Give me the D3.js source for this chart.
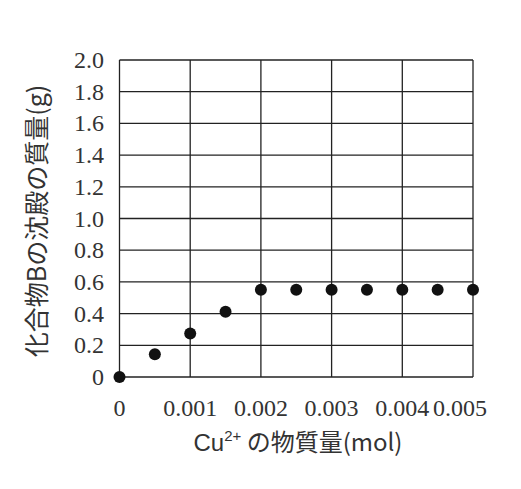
<!DOCTYPE html><html><head><meta charset="utf-8"><script src="https://d3js.org/d3.v7.min.js"></script>
<style>body{margin:0;background:#fff}</style></head><body><svg id="c" width="521" height="489"></svg>
<script>
const xs=[0,0.0005,0.001,0.0015,0.002,0.0025,0.003,0.0035,0.004,0.0045,0.005];
const ys=[0,0.143,0.275,0.412,0.55,0.55,0.55,0.55,0.55,0.55,0.55];
const xTicks=[0,0.001,0.002,0.003,0.004,0.005];
const xTickLabels=["0","0.001","0.002","0.003","0.004","0.005"];
const yTicks=[0,0.2,0.4,0.6,0.8,1.0,1.2,1.4,1.6,1.8,2.0];
const yTickLabels=["0","0.2","0.4","0.6","0.8","1.0","1.2","1.4","1.6","1.8","2.0"];
const svg=d3.select("#c");
const x=d3.scaleLinear().domain([0,0.005]).range([119.5,473]);
const y=d3.scaleLinear().domain([0,2]).range([377,60]);
const g=svg.append("g");
g.selectAll(".h").data(yTicks).join("line").attr("x1",x(0)).attr("x2",x(0.005)).attr("y1",d=>y(d)).attr("y2",d=>y(d)).attr("stroke","#222").attr("stroke-width",1.3);
g.selectAll(".v").data(xTicks).join("line").attr("y1",y(0)).attr("y2",y(2)).attr("x1",d=>x(d)).attr("x2",d=>x(d)).attr("stroke","#222").attr("stroke-width",1.3);
const serif="Liberation Serif, Times New Roman, DejaVu Serif, serif";
g.selectAll(".yl").data(yTicks).join("text").attr("x",104).attr("y",d=>y(d)+8).attr("text-anchor","end").attr("font-family",serif).attr("font-size",24).attr("fill","#333").text((d,i)=>yTickLabels[i]);
g.selectAll(".xl").data(xTicks).join("text").attr("x",d=>x(d)).attr("y",416).attr("text-anchor",d=>d===0.005?"end":"middle").attr("dx",d=>d===0.005?14:0).attr("font-family",serif).attr("font-size",24).attr("fill","#333").text((d,i)=>xTickLabels[i]);
g.selectAll("circle").data(xs).join("circle").attr("cx",d=>x(d)).attr("cy",(d,i)=>y(ys[i])).attr("r",6).attr("fill","#111");
const jp="Noto Sans CJK JP, sans-serif";
svg.append("text").attr("transform","translate(46,221) rotate(-90)").attr("text-anchor","middle").attr("font-family",jp).attr("font-size",25).attr("fill","#333").text("化合物Bの沈殿の質量(g)");
const t=svg.append("text").attr("x",298).attr("y",451).attr("text-anchor","middle").attr("font-family",jp).attr("font-size",24).attr("fill","#333");
t.append("tspan").attr("font-family","Liberation Sans, sans-serif").text("Cu");
t.append("tspan").attr("dy",-10).attr("font-size",15).attr("font-family","Liberation Sans, sans-serif").text("2+");
t.append("tspan").attr("dy",10).text(" の物質量(mol)");
</script></body></html>
